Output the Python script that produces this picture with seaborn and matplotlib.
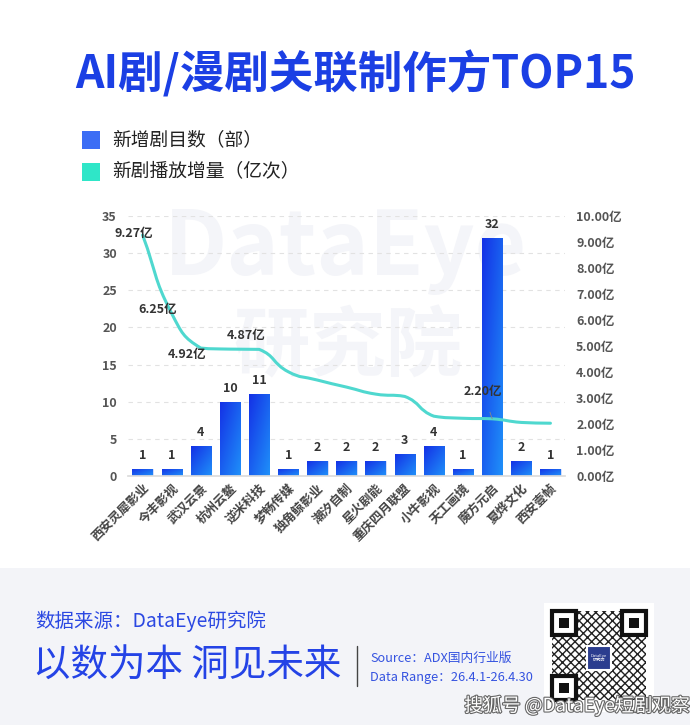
import numpy as np
import pandas as pd
import matplotlib
matplotlib.use("Agg")
import matplotlib.pyplot as plt
from matplotlib.path import Path
from matplotlib.patches import PathPatch, Rectangle
from matplotlib.colors import to_rgb
import matplotlib.patheffects as pe
import seaborn as sns

# 数据
companies = ["西安灵犀影业", "今丰影视", "武汉云景", "杭州云鳌", "逆米科技", "梦畅传媒",
             "独角鲸影业", "潮汐自制", "星火剧能", "重庆四月联盟", "小牛影视", "天工画境",
             "魔方元启", "夏烨文化", "西安壹帧"]
new_dramas = [1, 1, 4, 10, 11, 1, 2, 2, 2, 3, 4, 1, 32, 2, 1]
play_incr = [9.27, 6.25, 4.92, 4.88, 4.87, 4.01, 3.69, 3.42, 3.15, 3.06, 2.30, 2.22, 2.20, 2.06, 2.03]
labeled = {0: (-9, 1), 1: (-14, 4), 2: (-14, -6), 4: (-13, 14)}
left_ticks = [0, 5, 10, 15, 20, 25, 30, 35]
right_ticks = [0, 1, 2, 3, 4, 5, 6, 7, 8, 9, 10]

W, H = 690, 725
BLUE = "#1b3fe4"
TEAL = "#4fd8cf"

sns.set_theme(style="white")
plt.rcParams["font.family"] = ["Noto Sans CJK SC", "DejaVu Sans"]
plt.rcParams["axes.unicode_minus"] = False


def fx(x):
    return x / W


def fy(y):
    return 1 - y / H


fig = plt.figure(figsize=(W / 100, H / 100), dpi=100)
fig.patch.set_facecolor("white")

# 底部灰色区域
fig.patches.append(Rectangle((0, 0), 1, fy(568), transform=fig.transFigure,
                             facecolor="#f3f4f8", edgecolor="none", zorder=0))

# 标题
fig.text(fx(355), fy(75), "AI剧/漫剧关联制作方TOP15", ha="center", va="center",
         fontsize=32, fontweight="heavy", color=BLUE)

# 图例
fig.patches.append(Rectangle((fx(82), fy(149)), fx(18), 18 / H, transform=fig.transFigure,
                             facecolor="#3b6df5", edgecolor="none"))
fig.patches.append(Rectangle((fx(82), fy(181)), fx(18), 18 / H, transform=fig.transFigure,
                             facecolor="#2fe6c8", edgecolor="none"))
fig.text(fx(112), fy(140), "新增剧目数（部）", ha="left", va="center", fontsize=13.5, color="#222222")
fig.text(fx(112), fy(171), "新剧播放增量（亿次）", ha="left", va="center", fontsize=13.5, color="#222222")

ax = fig.add_axes([fx(128), fy(476), fx(565) - fx(128), (476 - 216) / H])
ax.patch.set_alpha(0)

# 水印
fig.text(fx(346), fy(250), "DataEye", ha="center", va="center", fontsize=64,
         fontweight="bold", color="#f4f5f9", zorder=-1)
fig.text(fx(348), fy(348), "研究院", ha="center", va="center", fontsize=55,
         fontweight="bold", color="#f4f5f9", zorder=-1)

df = pd.DataFrame({"company": companies, "count": new_dramas})
sns.barplot(data=df, x="company", y="count", order=companies, color="#1a3ee8",
            width=0.7, ax=ax, zorder=2)

# 柱子渐变
dark = np.array(to_rgb("#1431e6"))
light = np.array(to_rgb("#1f90f9"))
uu, vv = np.meshgrid(np.linspace(0, 1, 40), np.linspace(0, 1, 40))
t = ((uu + vv) / 2)[..., None]
grad = dark * (1 - t) + light * t
for p in ax.patches:
    x0, w, h = p.get_x(), p.get_width(), p.get_height()
    im = ax.imshow(grad, extent=[x0, x0 + w, 0, h], origin="upper", aspect="auto",
                   interpolation="bilinear", zorder=2.1)
    im.set_clip_path(p)
    p.set_edgecolor("#dfe6ff")
    p.set_linewidth(0.6)

ax.bar_label(ax.containers[0], padding=5, fontsize=9, fontweight="bold", color="#333333")

ax.set_xlim(-0.5, len(companies) - 0.5)
ax.set_ylim(0, 35)
ax.set_yticks(left_ticks)
ax.set_xlabel("")
ax.set_ylabel("")
ax.set_axisbelow(True)
ax.yaxis.grid(True, linestyle=(0, (4, 4)), color="#e2e2e2", linewidth=0.8)
ax.xaxis.grid(False)
for s in ["top", "right", "left"]:
    ax.spines[s].set_visible(False)
ax.spines["bottom"].set_color("#dcdcdc")
ax.tick_params(axis="y", length=0, pad=8, labelsize=9, labelcolor="#555555")
ax.tick_params(axis="x", length=0, pad=4)
for lab in ax.get_yticklabels():
    lab.set_fontweight("bold")
ax.set_xticks(range(len(companies)))
ax.set_xticklabels(companies, rotation=45, ha="right", rotation_mode="anchor",
                   fontsize=9, fontweight="bold", color="#444444")

# 右轴 + 平滑折线
ax2 = ax.twinx()
ax2.set_ylim(0, 10)
ax2.set_yticks(right_ticks)
ax2.set_yticklabels([f"{v:.2f}亿" for v in right_ticks])
ax2.tick_params(axis="y", length=0, pad=8, labelsize=9, labelcolor="#555555")
for lab in ax2.get_yticklabels():
    lab.set_fontweight("bold")
for s in ax2.spines.values():
    s.set_visible(False)
ax2.grid(False)

xs = np.arange(len(play_incr))
pts = ax2.transData.transform(np.column_stack([xs, play_incr]))
n = len(pts)
cps = []
for i in range(n):
    prev = pts[max(i - 1, 0)]
    nxt = pts[min(i + 1, n - 1)]
    v = (nxt - prev) * 0.5
    d0 = np.hypot(*(pts[i] - prev))
    d1 = np.hypot(*(pts[i] - nxt))
    s = d0 + d1
    if s:
        d0, d1 = d0 / s, d1 / s
    cps.append([pts[i] - v * d0, pts[i] + v * d1])
verts = [pts[0]]
codes = [Path.MOVETO]
for i in range(n - 1):
    lo, hi = sorted([pts[i][1], pts[i + 1][1]])
    c1 = cps[i][1].copy()
    c2 = cps[i + 1][0].copy()
    c1[1] = np.clip(c1[1], lo, hi)
    c2[1] = np.clip(c2[1], lo, hi)
    verts += [c1, c2, pts[i + 1]]
    codes += [Path.CURVE4] * 3
verts = ax2.transData.inverted().transform(np.array(verts))
ax2.add_patch(PathPatch(Path(verts, codes), facecolor="none", edgecolor=TEAL,
                        linewidth=2.2, zorder=3, capstyle="round"))

for i, (dx, dy) in labeled.items():
    ax2.annotate(f"{play_incr[i]:.2f}亿", (xs[i], play_incr[i]), xytext=(dx, dy),
                 textcoords="offset pixels", ha="center", va="center",
                 fontsize=9, fontweight="bold", color="#333333", zorder=5)
ax2.annotate(f"{play_incr[12]:.2f}亿", (xs[12], play_incr[12]), xytext=(-9, 27),
             textcoords="offset pixels", ha="center", va="center",
             fontsize=9, fontweight="bold", color="#333333", zorder=5,
             arrowprops=dict(arrowstyle="-", color="#888888", lw=0.6, shrinkA=8, shrinkB=0))

# 底部文字
fig.text(fx(35), fy(621), "数据来源：DataEye研究院", ha="left", va="center",
         fontsize=14, color="#2b48e2")
fig.text(fx(33), fy(666), "以数为本 洞见未来", ha="left", va="center",
         fontsize=27, color="#2443e6")
fig.lines.append(plt.Line2D([fx(357), fx(357)], [fy(646), fy(686)], transform=fig.transFigure,
                            color="#444444", linewidth=1))
fig.text(fx(370), fy(658), "Source：ADX国内行业版", ha="left", va="center",
         fontsize=9.2, color="#3553e0")
fig.text(fx(370), fy(677), "Data Range：26.4.1-26.4.30", ha="left", va="center",
         fontsize=9.2, color="#3553e0")

# 二维码占位
fig.patches.append(Rectangle((fx(544), fy(712)), fx(110), 109 / H, transform=fig.transFigure,
                             facecolor="white", edgecolor="none"))
fig.patches.append(Rectangle((fx(552), fy(700)), fx(94), 89 / H, transform=fig.transFigure,
                             facecolor="none", edgecolor="#222222", hatch="xxxx", linewidth=0))
for (qx, qy) in [(552, 611), (622, 611), (552, 676)]:
    fig.patches.append(Rectangle((fx(qx), fy(qy + 24)), fx(24), 24 / H, transform=fig.transFigure,
                                 facecolor="white", edgecolor="#111111", linewidth=3))
    fig.patches.append(Rectangle((fx(qx + 7), fy(qy + 17)), fx(10), 10 / H, transform=fig.transFigure,
                                 facecolor="#111111", edgecolor="none"))
fig.patches.append(Rectangle((fx(587), fy(670)), fx(24), 24 / H, transform=fig.transFigure,
                             facecolor="#2b3d8f", edgecolor="white", linewidth=1.5))
fig.text(fx(599), fy(658), "DataEye\n研究院", ha="center", va="center", fontsize=3,
         color="white", linespacing=1.2)

fig.text(fx(690), fy(706), "搜狐号 @DataEye短剧观察", ha="right", va="center",
         fontsize=13.5, color="white",
         path_effects=[pe.withStroke(linewidth=1.6, foreground="#666666")])

fig.savefig("out.png", dpi=100)
